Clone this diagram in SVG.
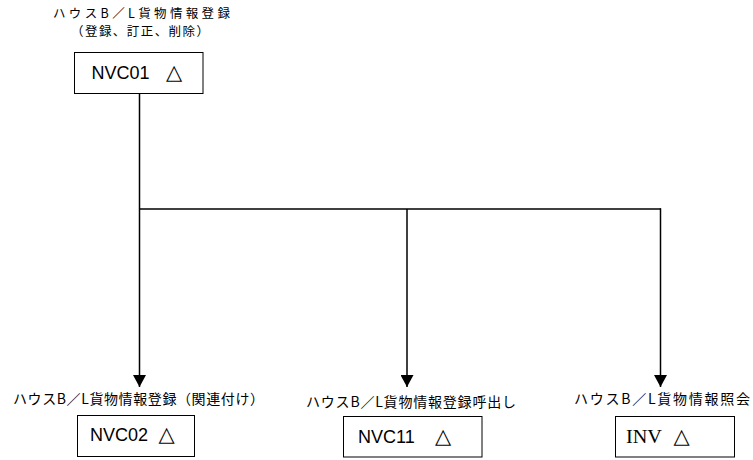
<svg xmlns="http://www.w3.org/2000/svg" width="753" height="460" viewBox="0 0 753 460">
<style>
.lbl{font-family:"Noto Sans CJK JP","Noto Sans CJK SC",sans-serif;font-size:14px;fill:#000}
.top{font-size:12.5px}
.box{fill:#fff;stroke:#000;stroke-width:1}
.code{font-family:"Liberation Sans",Arial,sans-serif;font-size:18px;fill:#000}
.serif{font-family:"Liberation Serif","Times New Roman",serif;font-size:19px;fill:#000}
.tri{font-family:"DejaVu Sans",sans-serif;font-size:21px;fill:#000}
.conn{stroke:#000;stroke-width:1.5;fill:none}
</style>
<defs>
<marker id="arr" markerUnits="userSpaceOnUse" markerWidth="12" markerHeight="13" refX="12" refY="6.5" orient="auto">
<path d="M0,0 L12,6.5 L0,13 z" fill="#000"/>
</marker>
</defs>
<rect width="753" height="460" fill="#fff"/>
<g id="connectors">
<line class="conn" x1="139.5" y1="93" x2="139.5" y2="387" marker-end="url(#arr)"/>
<line class="conn" x1="139.5" y1="209" x2="661" y2="209"/>
<line class="conn" x1="407" y1="209" x2="407" y2="387" marker-end="url(#arr)"/>
<line class="conn" x1="660.5" y1="208.3" x2="660.5" y2="387" marker-end="url(#arr)"/>
</g>
<g id="nvc01">
<text class="lbl top" x="53" y="18" textLength="177" lengthAdjust="spacing">ハウスB／L貨物情報登録</text>
<text class="lbl top" x="71" y="35.5" textLength="138" lengthAdjust="spacing">（登録、訂正、削除）</text>
<rect class="box" x="74.5" y="52.5" width="128.5" height="41"/>
<text class="code" x="91.5" y="78.5">NVC01</text>
<text class="tri" x="166" y="78.5">△</text>
</g>
<g id="nvc02">
<text class="lbl" x="13" y="404" textLength="251" lengthAdjust="spacing">ハウスB／L貨物情報登録（関連付け）</text>
<rect class="box" x="77.5" y="415.5" width="117" height="41"/>
<text class="code" x="90" y="440.5">NVC02</text>
<text class="tri" x="158.5" y="440.5">△</text>
</g>
<g id="nvc11">
<text class="lbl" x="306" y="407" textLength="210" lengthAdjust="spacing">ハウスB／L貨物情報登録呼出し</text>
<rect class="box" x="343.5" y="416.5" width="138.5" height="40.5"/>
<text class="code" x="358" y="443">NVC11</text>
<text class="tri" x="435" y="443">△</text>
</g>
<g id="inv">
<text class="lbl" x="574" y="404" textLength="176" lengthAdjust="spacing">ハウスB／L貨物情報照会</text>
<rect class="box" x="615.5" y="416.5" width="119" height="40.5"/>
<text class="serif" x="626" y="443" textLength="36" lengthAdjust="spacingAndGlyphs">INV</text>
<text class="tri" x="673.5" y="443">△</text>
</g>
</svg>
